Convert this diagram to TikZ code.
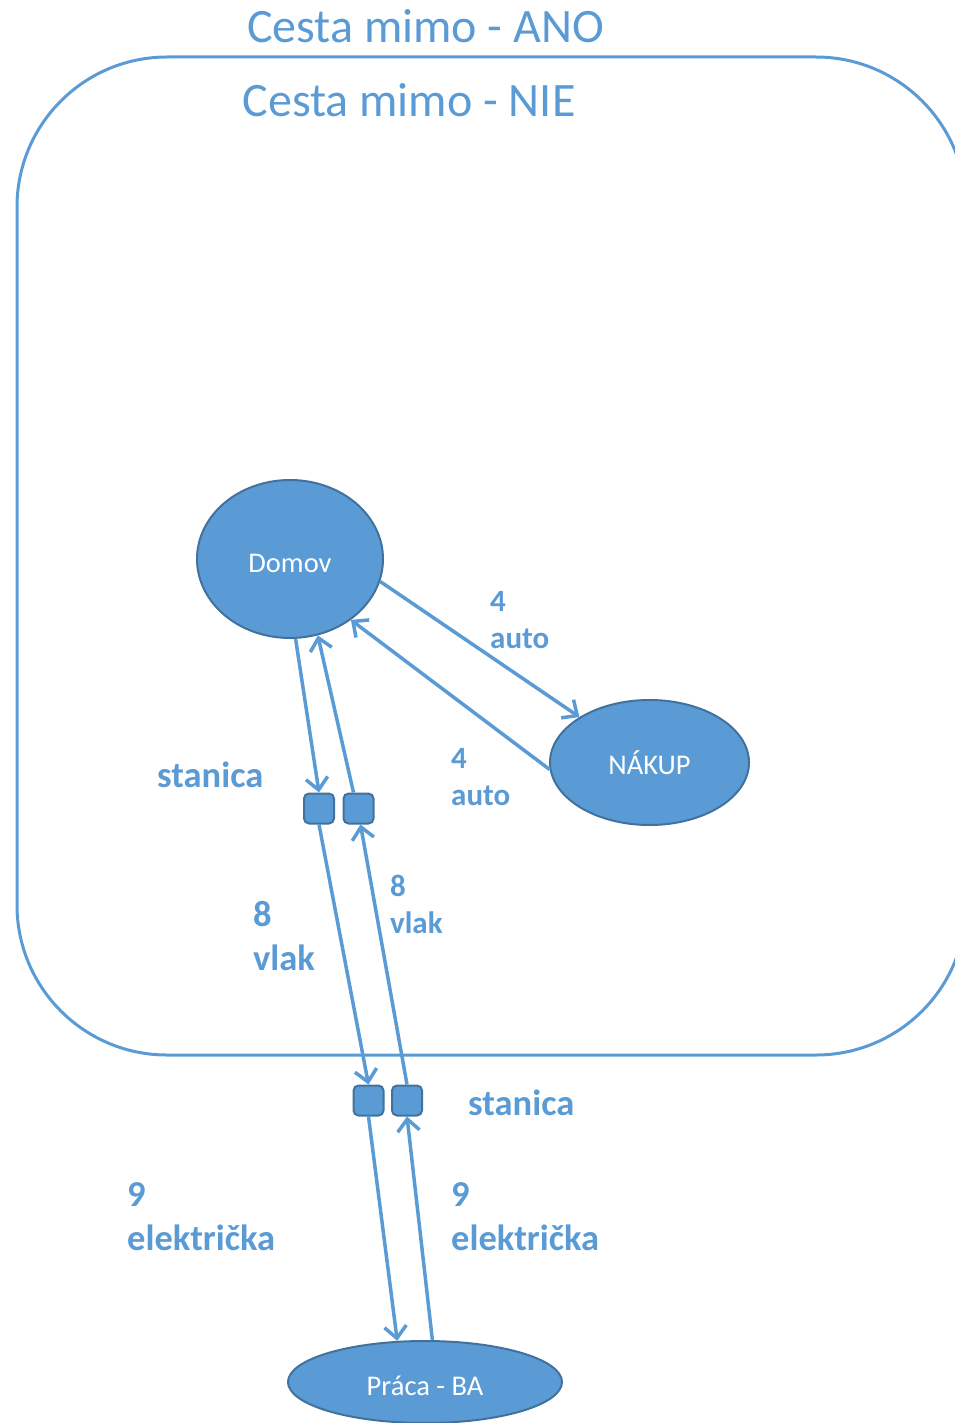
\documentclass[tikz,border=0pt]{standalone}
\usepackage{fontspec}
\setmainfont{Carlito}
\usetikzlibrary{shapes.geometric,arrows.meta}
\definecolor{ob}{HTML}{5B9BD5}
\definecolor{obd}{HTML}{41719C}
\begin{document}
\begin{tikzpicture}[x=1pt,y=-1pt,
  place/.style={ellipse,fill=ob,draw=obd,line width=2pt,inner sep=0pt,text=white,font=\fontsize{28.5}{34}\selectfont},
  low/.style={text height=26pt,text depth=0pt},
  stop/.style={rectangle,rounded corners=5pt,fill=ob,draw=obd,line width=2pt,minimum size=30pt,inner sep=0pt},
  conn/.style={draw=ob,line width=3.5pt,-{Straight Barb[length=12pt,width=22pt,line width=3.5pt 0]}},
  big/.style={text=ob,font=\bfseries\fontsize{36.5}{44}\selectfont,anchor=base west,align=left,inner sep=0pt},
  small/.style={text=ob,font=\bfseries\fontsize{31}{37}\selectfont,anchor=base west,align=left,inner sep=0pt},
  title/.style={text=ob,font=\fontsize{48}{58}\selectfont,inner sep=0pt,anchor=base}]
\useasboundingbox (0,0) rectangle (955,1423);
\clip (0,0) rectangle (955,1423);
\draw[ob,line width=3pt,rounded corners=150pt] (17,57) rectangle (966,1055);

\node[title] (ano) at (425.5,43) {Cesta mimo - ANO};
\node[title] (nie) at (409,117) {Cesta mimo - NIE};

\node[place,low,minimum width=186pt,minimum height=158pt] (domov) at (290,559) {Domov};
\node[place,minimum width=199pt,minimum height=125pt] (nakup) at (649.5,762.5) {NÁKUP};
\node[place,low,minimum width=274pt,minimum height=82pt] (praca) at (425,1382) {Práca - BA};

\node[stop] (s1) at (319,808.5) {};
\node[stop] (s2) at (358.5,808.5) {};
\node[stop] (s3) at (368.5,1100.5) {};
\node[stop] (s4) at (407,1100.5) {};

\draw[conn] (domov.-86.5) -- (s1.north);
\draw[conn] ([xshift=-5pt]s2.north) -- (domov.-70.7);
\draw[conn] (domov.-14.5) -- (nakup.147.5);
\draw[conn] (nakup.184.3) -- (domov.-45.5);
\draw[conn] (s1.south) -- (s3.north);
\draw[conn] (s4.north) -- ([xshift=2pt]s2.south);
\draw[conn] (s3.south) -- (praca.124);
\draw[conn] (praca.80) -- (s4.south);

\node[small] (l1) at (490,648) {4\\auto};
\node[small] (l2) at (451,805) {4\\auto};
\node[big] (l3) at (157,787) {stanica};
\node[big] (l4) at (253,970) {8\\vlak};
\node[small] (l5) at (390,933) {8\\vlak};
\node[big] (l6) at (468,1115) {stanica};
\node[big] (l7) at (127,1250) {9\\električka};
\node[big] (l8) at (451,1250) {9\\električka};
\end{tikzpicture}
\end{document}
